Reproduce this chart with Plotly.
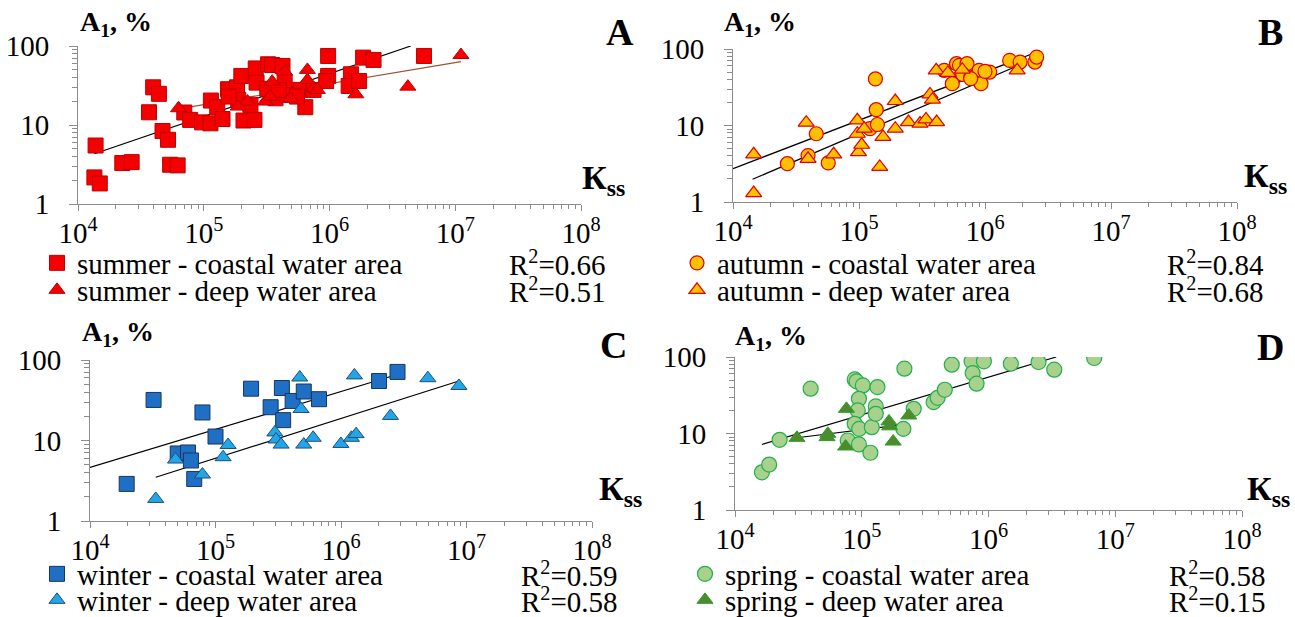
import plotly.graph_objects as go

W, H = 1295, 617
FONT = "Liberation Serif"

# ---------------- data ----------------
summer_coastal_x = [1.38e4, 1.35e4, 1.49e4, 2.25e4, 2.67e4, 3.96e4, 3.67e4, 4.4e4, 4.7e4, 5.2e4, 5.4e4, 6.2e4,
                    7.0e4, 7.8e4, 9.7e4, 1.13e5, 1.14e5, 1.28e5, 1.41e5, 1.56e5, 1.84e5, 1.99e5, 1.88e5, 2.07e5,
                    2.53e5, 2.59e5, 2.63e5, 2.35e5, 3.25e5, 3.5e5, 4.23e5, 4.4e5, 3.2e5, 3.72e5, 4.64e5, 5.86e5,
                    6.42e5, 7.47e5, 9.75e5, 9.75e5, 9.4e5, 1.48e6, 1.42e6, 1.72e6, 1.85e6, 2.24e6, 5.64e6, 5.52e5,
                    1.58e5, 3.95e5]
summer_coastal_y = [5.5, 2.17, 1.82, 3.3, 3.39, 30, 14.5, 24.8, 8.4, 6.5, 3.14, 3.08,
                    14.4, 11.6, 10.8, 10.5, 20.4, 16.8, 11.9, 28.4, 30, 41.8, 20.8, 11.4,
                    11.6, 52, 34.4, 18, 58.7, 57.5, 55.9, 35, 28.7, 21.8, 24, 27.8,
                    16.8, 27.8, 74.8, 41.8, 36, 43.9, 31.2, 36, 71.3, 66.6, 74.8, 22.9,
                    22.9, 27.8]
summer_deep_x = [6.3e4, 2.23e5, 1.88e5, 3.08e5, 3.5e5, 3.37e5, 4.4e5, 6.67e5, 7.5e5, 8.0e5, 6.67e5, 1.62e6,
                 4.2e6, 1.11e7, 4.9e5]
summer_deep_y = [16.3, 19.8, 17.1, 19.8, 35.4, 22.9, 47.4, 49.8, 29.2, 27.8, 37, 24.5, 30.6, 76.9, 21.8]
summer_coastal_trend_x = [1.35e4, 4.43e6]
summer_coastal_trend_y = [4.33, 100]
summer_deep_trend_x = [6.3e4, 1.11e7]
summer_deep_trend_y = [16.0, 63.4]

autumn_coastal_x = [2.7e4, 4.58e4, 3.94e4, 5.7e4, 1.22e5, 1.4e5, 1.35e5, 1.37e5, 4.75e5, 5.5e5, 5.94e5, 6.27e5,
                    7.2e5, 6.66e5, 7.7e5, 9.0e5, 1.09e6, 9.3e5, 7.7e5, 1.57e6, 1.9e6, 2.49e6, 2.57e6, 1.0e6]
autumn_coastal_y = [3.17, 7.8, 4.04, 3.24, 9.1, 10.3, 40.6, 16.1, 52.6, 35.2, 64.3, 61.1,
                    64.3, 46.6, 43, 52.6, 50, 35.2, 41, 71, 67.5, 67.5, 78.5, 51]
autumn_deep_x = [1.46e4, 1.46e4, 3.81e4, 3.94e4, 6.3e4, 9.7e4, 9.7e4, 9.9e4, 1.05e5, 1.1e5, 1.46e5, 1.55e5,
                 1.94e5, 1.94e5, 2.47e5, 3.05e5, 3.4e5, 4.13e5, 3.66e5, 3.83e5, 4.1e5, 5.07e5, 6.6e5, 1.8e6]
autumn_deep_y = [4.2, 1.31, 10.9, 3.67, 4.2, 11.7, 7.8, 4.5, 5.6, 9.1, 2.87, 7.08,
                 9.1, 20.9, 11.1, 10.6, 12.0, 11.1, 25.5, 21.8, 52.6, 48.6, 53.7, 52.6]
autumn_coastal_trend_x = [1.0e4, 2.7e6]
autumn_coastal_trend_y = [2.73, 94]
autumn_deep_trend_x = [1.43e4, 1.85e6]
autumn_deep_trend_y = [1.98, 61]

winter_coastal_x = [1.96e4, 3.21e4, 5.0e4, 6.04e4, 6.37e4, 6.77e4, 7.87e4, 1.0e5, 1.92e5, 2.75e5, 3.38e5,
                    3.46e5, 4.12e5, 5.05e5, 6.68e5, 2.01e6, 2.82e6]
winter_coastal_y = [2.89, 31.9, 6.9, 7.1, 5.65, 3.33, 22.3, 11.2, 44, 25.9, 44.9, 17.9, 31, 40.6, 32.6, 54.8, 71.1]
winter_deep_x = [3.34e4, 4.8e4, 7.87e4, 1.15e5, 1.26e5, 2.97e5, 3.04e5, 3.33e5, 4.69e5, 4.8e5, 5.05e5, 6.0e5,
                 9.98e5, 1.21e6, 1.32e6, 1.28e6, 2.48e6, 4.92e6, 8.7e6]
winter_deep_y = [1.88, 5.8, 3.78, 6.2, 8.8, 12.6, 10.3, 8.9, 60.6, 24.6, 8.9, 10.8,
                 9.06, 10.8, 12, 64.4, 20.2, 59.4, 47.6]
winter_coastal_trend_x = [1.0e4, 2.89e6]
winter_coastal_trend_y = [4.62, 67]
winter_deep_trend_x = [3.34e4, 8.7e6]
winter_deep_trend_y = [3.49, 54.8]

spring_coastal_x = [1.63e4, 1.86e4, 2.25e4, 3.95e4, 7.75e4, 8.8e4, 9.1e4, 1.02e5, 9.5e4, 9.3e4, 8.8e4, 9.55e4,
                    9.5e4, 1.17e5, 1.2e5, 1.29e5, 1.29e5, 1.33e5, 2.13e5, 2.17e5, 2.57e5, 3.69e5, 3.97e5, 4.52e5,
                    5.13e5, 7.35e5, 7.5e5, 8.05e5, 9.2e5, 1.5e6, 2.48e6, 3.3e6, 6.82e6]
spring_coastal_y = [3.11, 3.93, 8.26, 38.5, 8.1, 50.9, 48, 42.5, 28.4, 20, 13.4, 11.5,
                    7.2, 5.6, 12.1, 22.6, 18.1, 40.5, 11.5, 70.3, 21, 25.7, 29.3, 37.3,
                    79.4, 87.8, 61.7, 44.8, 87.8, 81.8, 86, 68.2, 97]
spring_deep_x = [3.08e4, 5.32e4, 5.4e4, 7.46e4, 7.57e4, 1.64e5, 1.66e5, 1.77e5, 2.35e5]
spring_deep_y = [8.77, 8.96, 9.9, 6.76, 21, 14.4, 12.4, 7.85, 17.2]
spring_coastal_trend_x = [1.63e4, 3.42e6]
spring_coastal_trend_y = [7.18, 100]
spring_deep_trend_x = [3.08e4, 2.35e5]
spring_deep_trend_y = [8.8, 13.4]

x_tick_vals = [1e4, 1e5, 1e6, 1e7, 1e8]
x_tick_text = ["10<sup>4</sup>", "10<sup>5</sup>", "10<sup>6</sup>", "10<sup>7</sup>", "10<sup>8</sup>"]
y_tick_vals = [1, 10, 100]
y_tick_text = ["1", "10", "100"]

legend_names = {
    "A": ["summer - coastal water area", "summer - deep water area"],
    "B": ["autumn - coastal water area", "autumn - deep water area"],
    "C": ["winter - coastal water area", "winter - deep water area"],
    "D": ["spring - coastal water area", "spring - deep water area"],
}
r2_text = {"A": ["0.66", "0.51"], "B": ["0.84", "0.68"], "C": ["0.59", "0.58"], "D": ["0.58", "0.15"]}

# ---------------- layout geometry (pixels) ----------------
def px(v):
    return v / W

def py(v):
    return 1 - v / H

panels = {
    # name: (x0, x1, ytop, ybottom)
    "A": (78, 581, 46, 204),
    "B": (733, 1237, 49, 202),
    "C": (90, 592, 360, 521),
    "D": (735, 1242, 357, 510),
}

minor_x = [m * 10 ** e for e in range(4, 8) for m in range(2, 10)]
minor_y = [m * 10 ** e for e in range(0, 2) for m in range(2, 10)]
AXC = "#8c8c8c"

fig = go.Figure()
layout = dict(width=W, height=H, margin=dict(l=0, r=0, t=0, b=0, autoexpand=False),
              paper_bgcolor="white", plot_bgcolor="white", showlegend=True)

styles = {
    "A": [dict(symbol="square", size=15, color="#f50000", line=dict(color="#c00000", width=1)),
          dict(symbol="triangle-up", size=14, color="#f50000", line=dict(color="#c00000", width=1))],
    "B": [dict(symbol="circle", size=14, color="#ffc000", line=dict(color="#e00000", width=1.2)),
          dict(symbol="triangle-up", size=14, color="#ffc000", line=dict(color="#e00000", width=1.2))],
    "C": [dict(symbol="square", size=15, color="#1f6fc4", line=dict(color="#17375e", width=1)),
          dict(symbol="triangle-up", size=14, color="#22a6e8", line=dict(color="#1f4e79", width=1))],
    "D": [dict(symbol="circle", size=15, color="#a9d18e", line=dict(color="#22b04a", width=1.2)),
          dict(symbol="triangle-up", size=14, color="#4f8a2c", line=dict(color="#2ca02c", width=1))],
}
series = {
    "A": [(summer_coastal_x, summer_coastal_y), (summer_deep_x, summer_deep_y)],
    "B": [(autumn_coastal_x, autumn_coastal_y), (autumn_deep_x, autumn_deep_y)],
    "C": [(winter_coastal_x, winter_coastal_y), (winter_deep_x, winter_deep_y)],
    "D": [(spring_coastal_x, spring_coastal_y), (spring_deep_x, spring_deep_y)],
}
trends = {
    "A": [(summer_coastal_trend_x, summer_coastal_trend_y, "black"),
          (summer_deep_trend_x, summer_deep_trend_y, "#a0522d")],
    "B": [(autumn_coastal_trend_x, autumn_coastal_trend_y, "black"),
          (autumn_deep_trend_x, autumn_deep_trend_y, "black")],
    "C": [(winter_coastal_trend_x, winter_coastal_trend_y, "black"),
          (winter_deep_trend_x, winter_deep_trend_y, "black")],
    "D": [(spring_coastal_trend_x, spring_coastal_trend_y, "black"),
          (spring_deep_trend_x, spring_deep_trend_y, "black")],
}
# legend rows (pixel y) and marker x / R2 right edge
legend_pos = {
    "A": dict(mx=57, rows=(263, 290), r2x=608),
    "B": dict(mx=697, rows=(263, 290), r2x=1266),
    "C": dict(mx=57, rows=(574, 600), r2x=620),
    "D": dict(mx=705, rows=(574, 600), r2x=1268),
}
label_pos = {
    "A": dict(a1=(78, 24), k=(580, 180), let=(620, 32)),
    "B": dict(a1=(722, 24), k=(1242, 178), let=(1270, 32)),
    "C": dict(a1=(80, 333), k=(597, 491), let=(613, 345)),
    "D": dict(a1=(733, 337), k=(1245, 491), let=(1270, 347)),
}

annotations = []
legend_idx = 0
for i, name in enumerate(["A", "B", "C", "D"]):
    x0, x1, yt, yb = panels[name]
    sfx = "" if i == 0 else str(i + 1)
    xa, ya = "xaxis" + sfx, "yaxis" + sfx
    xr, yr = "x" + sfx, "y" + sfx
    layout[xa] = dict(domain=[px(x0), px(x1)], anchor=yr, type="log", range=[4, 8],
                      automargin=False,
                      showline=True, linecolor=AXC, linewidth=1, mirror=False,
                      showgrid=False, zeroline=False,
                      ticks="outside", ticklen=6, tickcolor=AXC, tickwidth=1,
                      tickvals=x_tick_vals, ticktext=x_tick_text,
                      tickfont=dict(family=FONT, size=29, color="black"),
                      ticklabelstandoff=-3,
                      minor=dict(ticks="outside", ticklen=4, tickcolor=AXC, tickwidth=1,
                                 tickvals=minor_x, showgrid=False))
    layout[ya] = dict(domain=[py(yb), py(yt)], anchor=xr, type="log", range=[0, 2],
                      automargin=False,
                      showline=True, linecolor=AXC, linewidth=1,
                      showgrid=False, zeroline=False,
                      ticks="outside", ticklen=8, tickcolor=AXC, tickwidth=1,
                      tickvals=y_tick_vals, ticktext=y_tick_text,
                      tickfont=dict(family=FONT, size=29, color="black"),
                      ticklabelstandoff=14,
                      minor=dict(ticks="outside", ticklen=5, tickcolor=AXC, tickwidth=1,
                                 tickvals=minor_y, showgrid=False))
    # trend lines
    for tx, ty, col in trends[name]:
        fig.add_trace(go.Scatter(x=tx, y=ty, mode="lines", line=dict(color=col, width=1.2),
                                 xaxis=xr, yaxis=yr, showlegend=False, hoverinfo="skip"))
    # markers
    lp = legend_pos[name]
    for j, (sx, sy) in enumerate(series[name]):
        legend_idx += 1
        lg = "legend" if legend_idx == 1 else "legend%d" % legend_idx
        fig.add_trace(go.Scatter(x=sx, y=sy, mode="markers", marker=styles[name][j],
                                 name=legend_names[name][j], xaxis=xr, yaxis=yr,
                                 legend=lg, showlegend=True))
        layout[lg] = dict(x=px(lp["mx"] - 20), y=py(lp["rows"][j]), xanchor="left", yanchor="middle",
                          bgcolor="rgba(0,0,0,0)", borderwidth=0,
                          font=dict(family=FONT, size=29, color="black"),
                          itemwidth=30, tracegroupgap=0)
        annotations.append(dict(x=px(lp["r2x"]), y=py(lp["rows"][j]), xref="paper", yref="paper",
                                xanchor="right", yanchor="middle", showarrow=False,
                                text="R<sup>2</sup>=" + r2_text[name][j],
                                font=dict(family=FONT, size=29, color="black")))
    lbl = label_pos[name]
    annotations.append(dict(x=px(lbl["a1"][0]), y=py(lbl["a1"][1]), xref="paper", yref="paper",
                            xanchor="left", yanchor="middle", showarrow=False,
                            text="<b>A<sub>1</sub>, %</b>",
                            font=dict(family=FONT, size=28, color="black")))
    annotations.append(dict(x=px(lbl["k"][0]), y=py(lbl["k"][1]), xref="paper", yref="paper",
                            xanchor="left", yanchor="middle", showarrow=False,
                            text="<b>К<sub>ss</sub></b>",
                            font=dict(family=FONT, size=34, color="black")))
    annotations.append(dict(x=px(lbl["let"][0]), y=py(lbl["let"][1]), xref="paper", yref="paper",
                            xanchor="center", yanchor="middle", showarrow=False,
                            text="<b>%s</b>" % name,
                            font=dict(family=FONT, size=38, color="black")))

layout["annotations"] = annotations
fig.update_layout(**layout)
fig.write_html("out.html", config={"displayModeBar": False},
               post_script="document.body.style.margin='0px';document.body.style.overflow='hidden';")
